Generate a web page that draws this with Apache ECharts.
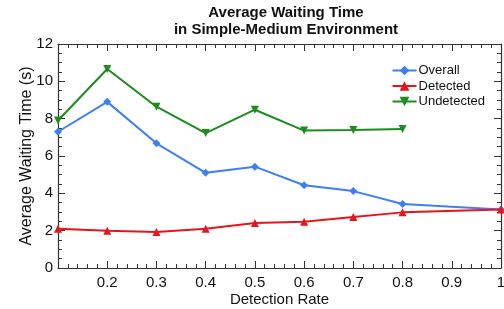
<!DOCTYPE html>
<html><head><meta charset="utf-8">
<script src="https://cdn.jsdelivr.net/npm/echarts@6/dist/echarts.min.js"></script>
<style>html,body{margin:0;padding:0;background:#fff}#c{width:504px;height:309px}</style>
</head><body><div id="c"></div>
<script>
const detectionRate = [0.1, 0.2, 0.3, 0.4, 0.5, 0.6, 0.7, 0.8, 1.0];
const overall = [7.3, 8.9, 6.68, 5.1, 5.43, 4.43, 4.12, 3.43, 3.14];
const detected = [2.1, 2.0, 1.93, 2.1, 2.41, 2.48, 2.73, 2.98, 3.14];
const undetected = [7.9, 10.66, 8.64, 7.23, 8.48, 7.36, 7.39, 7.44, null];
const seriesNames = ['Overall', 'Detected', 'Undetected'];
const colors = ['#3d7ff5', '#e8141c', '#1c8c1c'];
const symbols = ['diamond', 'triangle', 'path://M0,0 L10,0 L5,10 Z'];

const font = 'Liberation Sans, Arial, sans-serif';
const axisCol = '#333';
function pairs(vals){ return detectionRate.map((x,i)=>[x, vals[i]]).filter(p=>p[1]!=null); }
const allVals = [overall, detected, undetected];

const chart = echarts.init(document.getElementById('c'));
const commonX = {
  type:'value', min:0.1, max:1, interval:0.1,
  axisLine:{show:true, onZero:false, lineStyle:{color:axisCol, width:1.2}},
  axisTick:{show:true, inside:true, length:7, lineStyle:{color:axisCol}},
  minorTick:{show:true, splitNumber:5, length:4, lineStyle:{color:axisCol}},
  splitLine:{show:false}
};
const commonY = {
  type:'value', min:0, max:12, interval:2,
  axisLine:{show:true, onZero:false, lineStyle:{color:axisCol, width:1.2}},
  axisTick:{show:true, inside:true, length:7, lineStyle:{color:axisCol}},
  minorTick:{show:true, splitNumber:4, length:4, lineStyle:{color:axisCol}},
  splitLine:{show:false}
};
chart.setOption({
  animation:false,
  backgroundColor:'#fff',
  title:{
    text:'Average Waiting Time\nin Simple-Medium Environment',
    left:281, top:-1, textAlign:'center',
    textStyle:{fontFamily:font, fontSize:15, fontWeight:'bold', color:'#111', lineHeight:17}
  },
  legend:{
    orient:'vertical', right:14, top:59, itemGap:2.5, itemWidth:24, itemHeight:12,
    textStyle:{fontFamily:font, fontSize:13, color:'#111', padding:[0,0,0,-3]},
    data:seriesNames
  },
  grid:{left:58, right:3, top:44, bottom:41, containLabel:false, outerBoundsMode:'none'},
  xAxis:[
    Object.assign({}, commonX, {
      position:'bottom',
      name:'Detection Rate', nameLocation:'middle', nameGap:24, nameMoveOverlap:false,
      nameTextStyle:{fontFamily:font, fontSize:15, color:'#111'},
      axisLabel:{fontFamily:font, fontSize:15, color:'#111', margin:7,
        formatter:v=>{const r=Math.round(v*10)/10; if(r===0.1) return ''; return r===1?'1':r.toFixed(1);}}
    }),
    Object.assign({}, commonX, {position:'top', axisLabel:{show:false}})
  ],
  yAxis:[
    Object.assign({}, commonY, {
      position:'left',
      name:'Average Waiting Time (s)', nameLocation:'middle', nameGap:23, nameRotate:90, nameMoveOverlap:false,
      nameTextStyle:{fontFamily:font, fontSize:16, color:'#111'},
      axisLabel:{fontFamily:font, fontSize:15, color:'#111', margin:5}
    }),
    Object.assign({}, commonY, {position:'right', axisLabel:{show:false}})
  ],
  series: seriesNames.map((n,i)=>({
    name:n, type:'line', data:pairs(allVals[i]),
    symbol:symbols[i], symbolSize:8,
    lineStyle:{color:colors[i], width:2},
    itemStyle:{color:colors[i]},
    z: i===1?3:2
  }))
});
</script></body></html>
